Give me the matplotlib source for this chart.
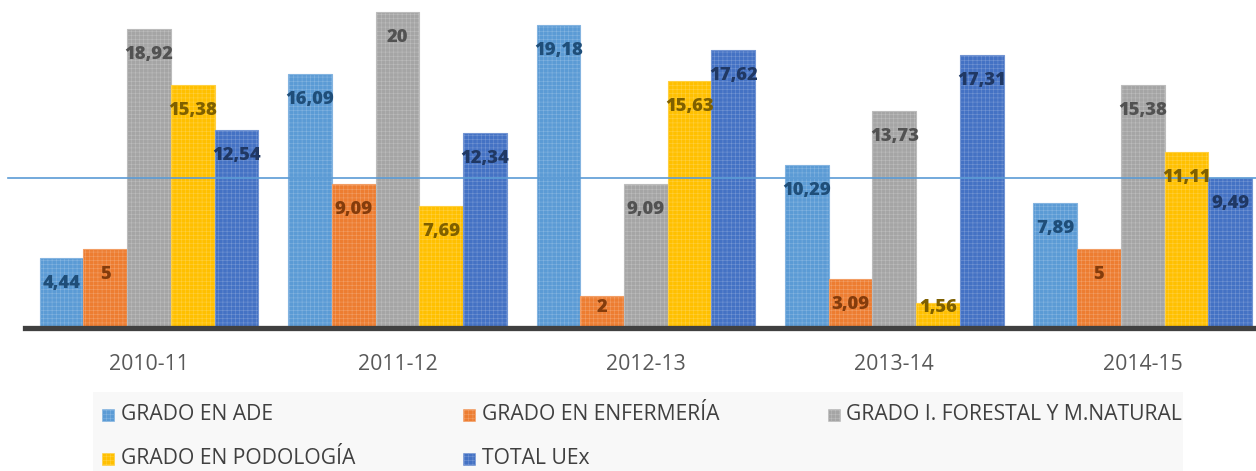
import matplotlib
matplotlib.use('Agg')
import matplotlib.pyplot as plt
from matplotlib.patches import Rectangle
from matplotlib.colors import to_rgb
import numpy as np

# ---- data ----
years = ['2010-11', '2011-12', '2012-13', '2013-14', '2014-15']
series_names = ['GRADO EN ADE', 'GRADO EN ENFERMERÍA', 'GRADO I. FORESTAL Y M.NATURAL',
                'GRADO EN PODOLOGÍA', 'TOTAL UEx']
ade = [4.44, 16.09, 19.18, 10.29, 7.89]
enfermeria = [5, 9.09, 2, 3.09, 5]
forestal = [18.92, 20, 9.09, 13.73, 15.38]
podologia = [15.38, 7.69, 15.63, 1.56, 11.11]
total_uex = [12.54, 12.34, 17.62, 17.31, 9.49]
reference_value = 9.49

series = [ade, enfermeria, forestal, podologia, total_uex]
fill_colors = ['#5B9BD5', '#ED7D31', '#A5A5A5', '#FFC000', '#4472C4']
label_colors = ['#1F4E79', '#843C0C', '#525252', '#7F6000', '#203864']

plt.rcParams['font.family'] = ['Open Sans', 'DejaVu Sans']
plt.rcParams['hatch.linewidth'] = 0.4

W, H = 1256, 471
fig = plt.figure(figsize=(W / 100, H / 100), dpi=100)
fig.patch.set_facecolor('white')

base_px = 327.5
left_px = 24.75
right_px = 1267
ax = fig.add_axes([left_px / W, (H - base_px) / H, (right_px - left_px) / W, base_px / H])
pxu = 15.76  # pixels per unit
ax.set_xlim(-0.5, len(years) - 0.5)
ax.set_ylim(0, base_px / pxu)


def tint(c, f):
    r, g, b = to_rgb(c)
    return (r + (1 - r) * f, g + (1 - g) * f, b + (1 - b) * f)


x = np.arange(len(years))
step = 0.176
for i, (vals, col, lcol) in enumerate(zip(series, fill_colors, label_colors)):
    xs = x + (i - 2) * step
    ax.bar(xs, vals, width=step, color=col, edgecolor=tint(col, 0.25),
           linewidth=0.8, hatch='++++', zorder=2)
    for xi, v in zip(xs, vals):
        ly = max(v - 25.5 / pxu, 20.5 / pxu)
        ax.text(xi, ly, f"{v:g}".replace('.', ','), ha='center', va='center',
                fontsize=13.2, fontweight=800, color=lcol, zorder=4)

# reference line
ax.axhline(reference_value, xmin=(8 - left_px) / (right_px - left_px), xmax=1,
           color='#5B9BD5', linewidth=1.2, clip_on=False, zorder=3)

for s in ['top', 'right', 'left']:
    ax.spines[s].set_visible(False)
ax.spines['bottom'].set_color('#404040')
ax.spines['bottom'].set_linewidth(3.8)
ax.spines['bottom'].set_zorder(5)
ax.set_yticks([])
ax.set_xticks(x)
ax.set_xticklabels(years, fontsize=15.3, color='#595959')
ax.tick_params(axis='x', length=0, pad=19)
ax.set_facecolor('none')

# ---- legend (manual, Excel-like) ----
def fx(px):
    return px / W


def fy(py):
    return 1 - py / H


fig.patches.append(Rectangle((fx(93), fy(471)), fx(1183) - fx(93), (471 - 392) / H,
                             transform=fig.transFigure, facecolor='#F8F8F8',
                             edgecolor='none', zorder=0))
col_marker_x = [102, 463, 828]
col_text_x = [121, 482, 846]
row_y = [415, 459]
for k, name in enumerate(series_names):
    r, c = divmod(k, 3)
    mx, ty = col_marker_x[c], row_y[r]
    fig.patches.append(Rectangle((fx(mx), fy(ty + 5.5)), 12 / W, 12 / H,
                                 transform=fig.transFigure, facecolor=fill_colors[k],
                                 edgecolor=tint(fill_colors[k], 0.25), linewidth=0.4,
                                 hatch='++++', zorder=2))
    fig.text(fx(col_text_x[c]), fy(ty), name, ha='left', va='center',
             fontsize=15.2, color='#404040')

fig.savefig('out.png', dpi=100, facecolor='white')
